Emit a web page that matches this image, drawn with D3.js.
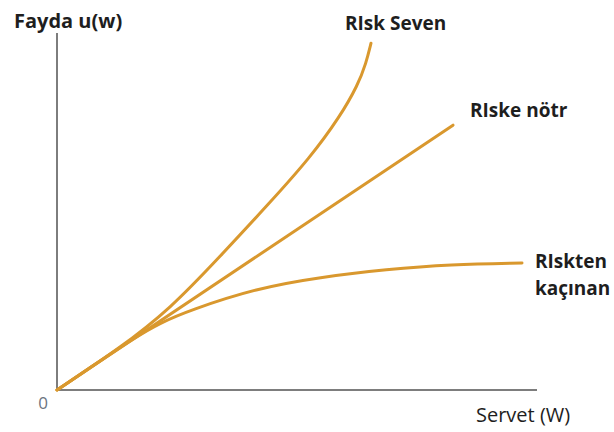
<!DOCTYPE html>
<html>
<head>
<meta charset="utf-8">
<script src="https://cdn.jsdelivr.net/npm/d3@7"></script>
<style>
    body { margin: 0; background: #fff; }
    svg text { font-family: "Open Sans", "Noto Sans", sans-serif; }
</style>
</head>
<body>
<svg id="chart" width="614" height="432"></svg>
<script>
// wealth (x) and utility (y), 0..120 / 0..100
const riskSevenW = [0, 15.75, 28.25, 40.75, 53.25, 63.25, 70.75, 75.25, 77.25, 78.5];
const riskSevenU = [0, 11.8, 22.8, 37.6, 52.8, 65.4, 77, 86, 92, 97.7];

const neutralW = [0, 99];
const neutralU = [0, 74.6];

const averseW = [0, 10.75, 19.25, 25.75, 33.25, 50, 65.75, 82.5, 98.25, 116.25];
const averseU = [0, 8.2, 14.6, 18.9, 22.5, 28.7, 31.8, 34, 35.4, 35.8];

const seriesNames = ["RIsk Seven", "RIske nötr", "RIskten kaçınan"];
const axisLabels = { y: "Fayda u(w)", x: "Servet (W)", origin: "0" };

let zip = (ws, us) => ws.map((w, i) => ({ w: w, u: us[i] }));

let series = [
    { name: seriesNames[0], points: zip(riskSevenW, riskSevenU) },
    { name: seriesNames[1], points: zip(neutralW, neutralU) },
    { name: seriesNames[2], points: zip(averseW, averseU) }
];

let svg = d3.select("#chart");

let x = d3.scaleLinear().domain([0, 120]).range([57, 537]);
let y = d3.scaleLinear().domain([0, 100]).range([390, 35]);

let lineColor = "#d9982e";
let axisColor = "#7d7d7d";

// axes: plain lines, no ticks
svg.append("line")
    .attr("x1", x(0)).attr("y1", y(0))
    .attr("x2", x(0)).attr("y2", y(100) - 2)
    .style("stroke", axisColor)
    .style("stroke-width", "2px");

svg.append("line")
    .attr("x1", x(0)).attr("y1", y(0))
    .attr("x2", x(120)).attr("y2", y(0))
    .style("stroke", axisColor)
    .style("stroke-width", "2px");

// basis smooths the hand-read points into one even curve
let line = d3.line()
    .x(d => x(d.w))
    .y(d => y(d.u))
    .curve(d3.curveBasis);

svg.selectAll("path.curve")
    .data(series)
    .enter()
    .append("path")
    .attr("class", "curve")
    .attr("d", d => line(d.points))
    .style("fill", "none")
    .style("stroke", lineColor)
    .style("stroke-width", "3px")
    .style("stroke-linecap", "round");

// curve labels
let labels = [
    { text: "RIsk Seven", x: 345, y: 30 },
    { text: "RIske nötr", x: 470, y: 117 },
    { text: "RIskten", x: 535, y: 268 },
    { text: "kaçınan", x: 535, y: 295 }
];

svg.selectAll("text.label")
    .data(labels)
    .enter()
    .append("text")
    .attr("class", "label")
    .attr("x", d => d.x)
    .attr("y", d => d.y)
    .text(d => d.text)
    .style("font-size", "19px")
    .style("font-weight", "bold")
    .style("fill", "#1e1e1e");

svg.append("text")
    .attr("x", 14)
    .attr("y", 28)
    .text(axisLabels.y)
    .style("font-size", "20px")
    .style("font-weight", "bold")
    .style("fill", "#1e1e1e");

svg.append("text")
    .attr("x", 476)
    .attr("y", 422)
    .text(axisLabels.x)
    .style("font-size", "20px")
    .style("fill", "#1e1e1e");

svg.append("text")
    .attr("x", 43)
    .attr("y", 409)
    .attr("text-anchor", "middle")
    .text(axisLabels.origin)
    .style("font-size", "17px")
    .style("fill", "#6b7480");
</script>
</body>
</html>
